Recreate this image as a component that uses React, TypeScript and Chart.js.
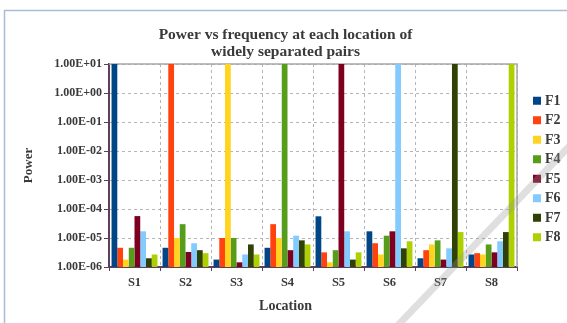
import React, { useEffect, useRef } from "react";
import { Chart, registerables } from "chart.js";

Chart.register(...registerables);

const categories = ["S1", "S2", "S3", "S4", "S5", "S6", "S7", "S8"];
const seriesNames = ["F1", "F2", "F3", "F4", "F5", "F6", "F7", "F8"];
const F1 = [10, 4.6e-6, 1.8e-6, 4.6e-6, 5.6e-5, 1.7e-5, 2.0e-6, 2.7e-6];
const F2 = [4.6e-6, 10, 1.0e-5, 3.0e-5, 3.2e-6, 6.6e-6, 3.8e-6, 3.0e-6];
const F3 = [1.8e-6, 1.0e-5, 10, 1.0e-5, 1.45e-6, 2.7e-6, 6.0e-6, 2.7e-6];
const F4 = [4.6e-6, 3.0e-5, 1.0e-5, 10, 3.8e-6, 1.2e-5, 8.3e-6, 6.0e-6];
const F5 = [5.7e-5, 3.3e-6, 1.45e-6, 3.8e-6, 10, 1.7e-5, 1.8e-6, 3.2e-6];
const F6 = [1.7e-5, 6.6e-6, 2.7e-6, 1.2e-5, 1.7e-5, 10, 4.4e-6, 7.7e-6];
const F7 = [2.0e-6, 3.8e-6, 6.0e-6, 8.3e-6, 1.8e-6, 4.4e-6, 10, 1.6e-5];
const F8 = [2.7e-6, 3.0e-6, 2.7e-6, 6.0e-6, 3.2e-6, 7.7e-6, 1.6e-5, 10];
const seriesValues = [F1, F2, F3, F4, F5, F6, F7, F8];
const colors = ["#004586", "#ff420e", "#ffd320", "#579d1c", "#7e0021", "#83caff", "#314004", "#aecf00"];
const yTickValues = [1e-6, 1e-5, 1e-4, 1e-3, 1e-2, 1e-1, 1e0, 1e1];

const TITLE = ["Power vs frequency at each location of", "widely separated pairs"];
const X_TITLE = "Location";
const Y_TITLE = "Power";

const SERIF = "'Liberation Serif', 'Times New Roman', serif";
const TEXT = "#3a3a3a";
const AXIS = "#5e405e";
const GRID = "#b5b5b5";

function fmt(v: number) {
  const e = Math.round(Math.log10(v));
  return "1.00E" + (e < 0 ? "-" : "+") + String(Math.abs(e)).padStart(2, "0");
}

const extras = {
  id: "extras",
  beforeDatasetsDraw(chart: any) {
    const { ctx, chartArea: a } = chart;
    ctx.save();
    ctx.strokeStyle = "#a8a8a8";
    ctx.lineWidth = 1.5;
    ctx.beginPath();
    ctx.moveTo(a.left, a.top);
    ctx.lineTo(a.right, a.top);
    ctx.lineTo(a.right, a.bottom);
    ctx.stroke();
    ctx.restore();
  },
  afterDraw(chart: any) {
    const { ctx, chartArea: a, width, height } = chart;
    ctx.save();
    const cx = (4 + width) / 2;
    // title
    ctx.fillStyle = TEXT;
    ctx.textAlign = "center";
    ctx.textBaseline = "alphabetic";
    ctx.font = `bold 15.5px ${SERIF}`;
    ctx.fillText(TITLE[0], cx, 38.5);
    ctx.fillText(TITLE[1], cx, 55.5);
    // legend
    const cy = (a.top + a.bottom) / 2 + 3.5;
    const step = 19.5;
    ctx.font = `bold 14px ${SERIF}`;
    ctx.textBaseline = "middle";
    ctx.textAlign = "left";
    seriesNames.forEach((n, i) => {
      const y = cy + (i - 3.5) * step;
      ctx.fillStyle = colors[i];
      ctx.fillRect(a.right + 16, y - 4, 8, 8);
      ctx.fillStyle = TEXT;
      ctx.fillText(n, a.right + 28, y + 0.5);
    });
    // x axis title
    ctx.font = `bold 14px ${SERIF}`;
    ctx.textAlign = "center";
    ctx.textBaseline = "alphabetic";
    ctx.fillStyle = TEXT;
    ctx.fillText(X_TITLE, cx, a.bottom + 43);
    // frame
    ctx.strokeStyle = "#a9bcd8";
    ctx.lineWidth = 1.5;
    ctx.beginPath();
    ctx.moveTo(4.5, height);
    ctx.lineTo(4.5, 10.5);
    ctx.lineTo(width, 10.5);
    ctx.stroke();
    // watermark
    ctx.strokeStyle = "rgba(150,150,150,0.3)";
    ctx.lineWidth = 7;
    ctx.beginPath();
    ctx.moveTo(380, 344);
    ctx.lineTo(580, 135);
    ctx.stroke();
    ctx.restore();
  },
};

export default function App() {
  const ref = useRef<HTMLCanvasElement | null>(null);
  useEffect(() => {
    if (!ref.current) return;
    const chart = new Chart(ref.current, {
      type: "bar",
      data: {
        labels: categories,
        datasets: seriesNames.map((n, i) => ({
          label: n,
          data: seriesValues[i],
          backgroundColor: colors[i],
          borderWidth: 0,
          barPercentage: 1,
          categoryPercentage: 0.9,
        })),
      },
      options: {
        responsive: false,
        animation: false,
        layout: { padding: { left: 4, right: 50, top: 64, bottom: 0 } },
        plugins: {
          legend: { display: false },
          tooltip: { enabled: false },
          title: { display: false },
        },
        scales: {
          x: {
            type: "category",
            offset: true,
            grid: {
              offset: true,
              color: GRID,
              tickColor: AXIS,
              tickLength: 4,
              lineWidth: 1,
            },
            border: { color: AXIS, width: 2, dash: [3, 3] },
            ticks: {
              color: TEXT,
              padding: 4,
              font: { family: SERIF, size: 12.5, weight: "bold" },
            },
            afterFit(scale: any) {
              scale.height = 56;
            },
          },
          y: {
            type: "logarithmic",
            min: 1e-6,
            max: 1e1,
            grid: { color: GRID, tickColor: AXIS, tickLength: 5 },
            border: { color: AXIS, width: 2, dash: [3, 3] },
            afterBuildTicks(scale: any) {
              scale.ticks = yTickValues.map((v) => ({ value: v }));
            },
            ticks: {
              color: TEXT,
              padding: 2,
              autoSkip: false,
              font: { family: SERIF, size: 12, weight: "bold" },
              callback: (v: any) => fmt(Number(v)),
            },
            title: {
              display: true,
              text: Y_TITLE,
              color: TEXT,
              padding: { top: 18, bottom: 0 },
              font: { family: SERIF, size: 13, weight: "bold", lineHeight: 1 },
            },
            afterFit(scale: any) {
              scale.width = 105;
            },
          },
        },
      },
      plugins: [extras],
    } as any);
    return () => chart.destroy();
  }, []);
  return (
    <div style={{ position: "fixed", left: 0, top: 0, width: 567, height: 323, background: "#fff" }}>
      <canvas ref={ref} width={567} height={323} style={{ display: "block" }} />
    </div>
  );
}
